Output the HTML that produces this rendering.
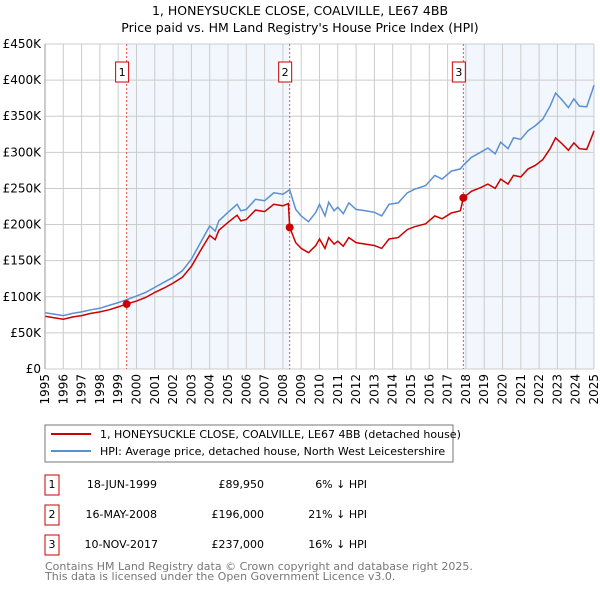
<!DOCTYPE html>
<html><head><meta charset="utf-8"><style>
body{margin:0;background:#fff;font-family:"Liberation Sans","DejaVu Sans",sans-serif;}
svg{display:block}
</style></head><body>
<svg id="c" width="600" height="590" xmlns="http://www.w3.org/2000/svg" font-family="DejaVu Sans, Liberation Sans, sans-serif">
<text x="300" y="15" text-anchor="middle" font-size="12.5">1, HONEYSUCKLE CLOSE, COALVILLE, LE67 4BB</text>
<text x="300" y="32" text-anchor="middle" font-size="12.5">Price paid vs. HM Land Registry's House Price Index (HPI)</text>
<g id="plot"></g>
<rect x="45" y="425" width="408" height="37" fill="#fff" stroke="#777"/>
<line x1="51" y1="434" x2="91" y2="434" stroke="#cc0000" stroke-width="2"/>
<text x="100" y="438" font-size="11">1, HONEYSUCKLE CLOSE, COALVILLE, LE67 4BB (detached house)</text>
<line x1="51" y1="451" x2="91" y2="451" stroke="#5b8fd4" stroke-width="2"/>
<text x="100" y="455" font-size="11">HPI: Average price, detached house, North West Leicestershire</text>
<g font-size="11">
<rect x="45" y="475" width="14" height="20" fill="#fff" stroke="#cc0000"/><text x="52" y="488" text-anchor="middle">1</text>
<text x="157" y="488" text-anchor="end">18-JUN-1999</text><text x="264" y="488" text-anchor="end">£89,950</text><text x="367" y="488" text-anchor="end">6% ↓ HPI</text>
<rect x="45" y="505" width="14" height="20" fill="#fff" stroke="#cc0000"/><text x="52" y="518" text-anchor="middle">2</text>
<text x="157" y="518" text-anchor="end">16-MAY-2008</text><text x="264" y="518" text-anchor="end">£196,000</text><text x="367" y="518" text-anchor="end">21% ↓ HPI</text>
<rect x="45" y="535" width="14" height="20" fill="#fff" stroke="#cc0000"/><text x="52" y="548" text-anchor="middle">3</text>
<text x="158" y="548" text-anchor="end">10-NOV-2017</text><text x="264" y="548" text-anchor="end">£237,000</text><text x="367" y="548" text-anchor="end">16% ↓ HPI</text>
</g>
<text x="45" y="570" font-size="11" fill="#777">Contains HM Land Registry data © Crown copyright and database right 2025.</text>
<text x="45" y="580" font-size="11" fill="#777">This data is licensed under the Open Government Licence v3.0.</text>
</svg>
<script>
const dates=[1995.0,1995.5,1996.0,1996.5,1997.0,1997.5,1998.0,1998.5,1999.0,1999.46,2000.0,2000.5,2001.0,2001.5,2002.0,2002.5,2003.0,2003.5,2004.0,2004.3,2004.5,2005.0,2005.5,2005.7,2006.0,2006.5,2007.0,2007.5,2008.0,2008.3,2008.37,2008.7,2009.0,2009.4,2009.8,2010.0,2010.3,2010.5,2010.8,2011.0,2011.3,2011.6,2012.0,2012.5,2013.0,2013.4,2013.8,2014.3,2014.8,2015.2,2015.8,2016.3,2016.7,2017.2,2017.7,2017.86,2018.3,2018.8,2019.2,2019.6,2019.9,2020.3,2020.6,2021.0,2021.4,2021.8,2022.2,2022.6,2022.9,2023.2,2023.6,2023.9,2024.2,2024.6,2024.9,2025.0];
const hpi=[78,76,74,77,79,82,84,88,92,96,101,106,113,120,127,136,152,175,198,191,205,217,228,219,221,235,233,244,242,247,248,221,212,204,217,228,212,231,219,224,215,230,221,219,217,212,228,230,244,249,254,268,263,274,277,282,293,300,306,298,314,305,320,318,330,337,346,364,382,374,362,374,364,363,385,393];
const price=[73,71,69,72,74,77,79,82,86,90,94,99,106,112,119,127,142,164,185,179,192,203,213,205,207,220,218,228,226,229,196,175,167,161,171,180,167,182,173,177,170,182,175,173,171,167,180,182,193,197,201,212,208,216,219,237,246,251,256,250,263,256,268,266,277,282,290,305,320,313,303,313,305,304,323,330];
const saleDates=[1999.46,2008.37,2017.86];
const salePrices=[89.95,196,237];
const yTicks=[0,50,100,150,200,250,300,350,400,450];
const yTickLabels=["£0","£50K","£100K","£150K","£200K","£250K","£300K","£350K","£400K","£450K"];
const xYears=[1995,1996,1997,1998,1999,2000,2001,2002,2003,2004,2005,2006,2007,2008,2009,2010,2011,2012,2013,2014,2015,2016,2017,2018,2019,2020,2021,2022,2023,2024,2025];
const X0=45,X1=594,Y0=369,Y1=44;
const sx=v=>X0+(v-1995)/30*(X1-X0);
const sy=v=>Y0-v/450*(Y0-Y1);
const NS="http://www.w3.org/2000/svg";
const g=document.getElementById('plot');
function mk(t,a){const e=document.createElementNS(NS,t);for(const k in a)e.setAttribute(k,a[k]);g.appendChild(e);return e;}
let e;
e=mk('rect',{x:sx(saleDates[0]),y:Y1,width:sx(saleDates[1])-sx(saleDates[0]),height:Y0-Y1,fill:'#f2f6fd'});


e=mk('rect',{x:sx(saleDates[2]),y:Y1,width:X1-sx(saleDates[2]),height:Y0-Y1,fill:'#f2f6fd'});


yTicks.forEach((t,i)=>{
 e=mk('line',{x1:X0,x2:X1,y1:sy(t),y2:sy(t),stroke:'#ccc','stroke-width':1});
 
 
 e=mk('text',{x:X0-4,y:sy(t)+4,'text-anchor':'end','font-size':12});
 e.textContent=yTickLabels[i];
 
 
});
xYears.forEach(yr=>{
 e=mk('line',{x1:sx(yr),x2:sx(yr),y1:Y1,y2:Y0,stroke:'#ccc','stroke-width':1});
 
 
 e=mk('text',{x:0,y:0,'text-anchor':'end','font-size':12,transform:`translate(${sx(yr)+4},${Y0+5}) rotate(-90)`});
 e.textContent=yr;
 
 
});
saleDates.forEach((d,i)=>{
 e=mk('line',{x1:sx(d),x2:sx(d),y1:Y1,y2:Y0,stroke:'#e05555','stroke-width':1,'stroke-dasharray':'2,2'});
 
 
 e=mk('rect',{x:sx(d)-11,y:62,width:13,height:20,fill:'#fff',stroke:'#cc0000'});
 
 
 e=mk('text',{x:sx(d)-4.5,y:76,'text-anchor':'middle','font-size':11});
 e.textContent=String(i+1);
 
 
});
const path=arr=>arr.map((v,i)=>(i?'L':'M')+sx(dates[i]).toFixed(1)+','+sy(v).toFixed(1)).join('');
e=mk('path',{d:path(hpi),fill:'none',stroke:'#5b8fd4','stroke-width':1.5});


e=mk('path',{d:path(price),fill:'none',stroke:'#cc0000','stroke-width':1.5});


saleDates.forEach((d,i)=>{
 e=mk('circle',{cx:sx(d),cy:sy(salePrices[i]),r:4,fill:'#cc0000'});
 
 
});
e=mk('line',{x1:X0,x2:X0,y1:Y1,y2:Y0,stroke:'#999'});


</script>
</body></html>
